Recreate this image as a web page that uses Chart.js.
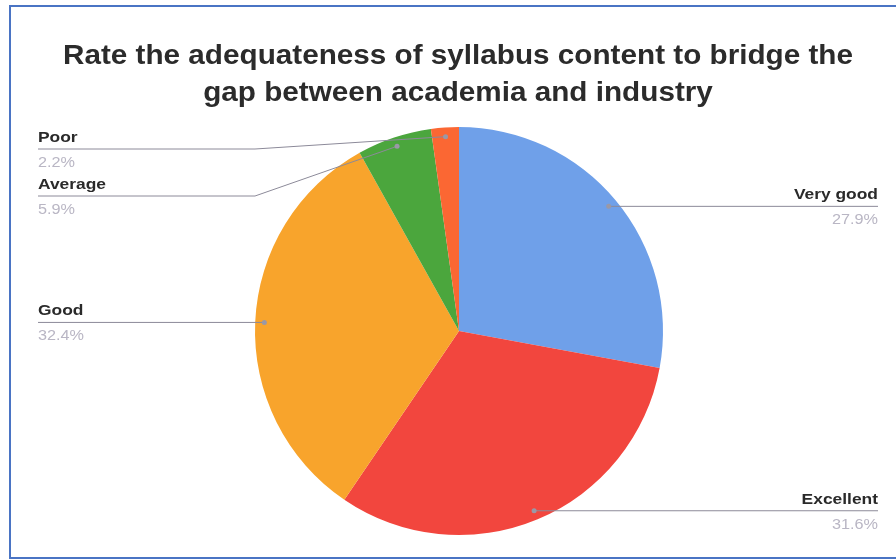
<!DOCTYPE html>
<html>
<head>
<meta charset="utf-8">
<script src="https://cdn.jsdelivr.net/npm/chart.js@4.4.0/dist/chart.umd.min.js"></script>
<style>
    html, body { margin: 0; padding: 0; background: #fff; }
    #wrap { width: 896px; height: 560px; position: relative; }
</style>
</head>
<body>
<div id="wrap"><canvas id="pieChart" width="896" height="560"></canvas></div>
<script>
const titleLines = ['Rate the adequateness of syllabus content to bridge the', 'gap between academia and industry'];
const categories = ['Very good', 'Excellent', 'Good', 'Average', 'Poor'];
const percentages = [27.9, 31.6, 32.4, 5.9, 2.2];
const sliceColors = ['#6fa0e9', '#f2463e', '#f8a42c', '#4ba63d', '#fb6733'];

const FONT = '"Liberation Sans", Arial, sans-serif';

function drawText(ctx, txt, x, y, align, sx) {
    ctx.save();
    ctx.translate(x, y);
    ctx.scale(sx, 1); // the picture is a bit stretched sideways
    ctx.textAlign = align;
    ctx.textBaseline = 'alphabetic';
    ctx.fillText(txt, 0, 0);
    ctx.restore();
}

// frame, title and the outside labels with leader lines
const decorPlugin = {
    id: 'decor',
    afterDraw(chart) {
        const ctx = chart.ctx;

        ctx.save();
        ctx.strokeStyle = '#4a74c4';
        ctx.lineWidth = 2;
        ctx.strokeRect(10, 6, 900, 552);

        ctx.fillStyle = '#2b2b2b';
        ctx.font = 'bold 28px ' + FONT;
        drawText(ctx, titleLines[0], 458, 64, 'center', 1.06);
        drawText(ctx, titleLines[1], 458, 101, 'center', 1.06);

        const arcs = chart.getDatasetMeta(0).data;
        let items = arcs.map((arc, i) => {
            const mid = (arc.startAngle + arc.endAngle) / 2;
            const r = arc.outerRadius;
            return {
                i: i,
                arc: arc,
                dx: arc.x + Math.cos(mid) * r * 0.955,
                dy: arc.y + Math.sin(mid) * r * 0.955,
                right: Math.cos(mid) >= 0
            };
        });

        [true, false].forEach(side => {
            let list = items.filter(it => it.right === side).sort((a, b) => a.dy - b.dy);
            let prev = -Infinity;
            list.forEach(it => {
                it.ly = Math.max(it.dy, prev + 47, 149);
                prev = it.ly;
            });
        });

        items.forEach(it => {
            const arc = it.arc;
            const textX = it.right ? 878 : 38;
            const elbowX = it.right ? arc.x + arc.outerRadius : arc.x - arc.outerRadius;

            ctx.strokeStyle = '#8c8a99';
            ctx.lineWidth = 1;
            ctx.beginPath();
            ctx.moveTo(textX, it.ly);
            ctx.lineTo(elbowX, it.ly);
            ctx.lineTo(it.dx, it.dy);
            ctx.stroke();

            ctx.fillStyle = '#9a98a6';
            ctx.beginPath();
            ctx.arc(it.dx, it.dy, 2.5, 0, Math.PI * 2);
            ctx.fill();

            const align = it.right ? 'right' : 'left';
            ctx.fillStyle = '#2a2a2a';
            ctx.font = 'bold 15px ' + FONT;
            drawText(ctx, categories[it.i], textX, it.ly - 7, align, 1.16);

            ctx.fillStyle = '#b9b6c4';
            ctx.font = '14px ' + FONT;
            drawText(ctx, percentages[it.i].toFixed(1) + '%', textX, it.ly + 18, align, 1.16);
        });
        ctx.restore();
    }
};

const ctx = document.getElementById('pieChart').getContext('2d');
let pieChart = new Chart(ctx, {
    type: 'pie',
    data: {
        labels: categories,
        datasets: [{
            data: percentages,
            backgroundColor: sliceColors,
            borderWidth: 0
        }]
    },
    options: {
        responsive: false,
        animation: false,
        layout: {
            padding: { top: 127, bottom: 25, left: 250, right: 228 }
        },
        plugins: {
            legend: { display: false },
            tooltip: { enabled: false },
            title: { display: false }
        }
    },
    plugins: [decorPlugin]
});
</script>
</body>
</html>
